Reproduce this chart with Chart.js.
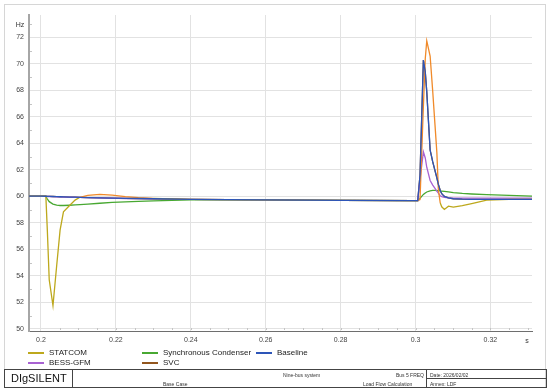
<!DOCTYPE html>
<html>
<head>
<meta charset="utf-8">
<title>Bus 5 frequency</title>
<script src="https://cdn.jsdelivr.net/npm/chart.js@4/dist/chart.umd.min.js"></script>
<style>
  body { margin: 0; background: #fff; font-family: "Liberation Sans", Arial, sans-serif; }
  #wrap { position: relative; width: 550px; height: 392px; overflow: hidden; background: #fff; }
  #chart { position: absolute; left: 0; top: 0; }
  .frame { position: absolute; left: 4px; top: 4px; width: 542px; height: 384px; border: 1px solid #d6d6d6; box-sizing: border-box; }
  #legend { position: absolute; left: 0; top: 346px; width: 550px; height: 22px; font-size: 8px; color: #222; }
  .lg-item { position: absolute; width: 120px; height: 10px; line-height: 10px; white-space: nowrap; }
  .lg-line { position: absolute; left: 0; top: 4px; width: 16px; height: 0; border-top: 2px solid; }
  .lg-text { position: absolute; left: 21px; top: 0; }
  .footer { position: absolute; left: 4px; top: 369px; width: 543px; height: 19px; border: 1px solid #444; box-sizing: border-box; font-size: 5px; color: #333; }
  .cell { position: absolute; top: 0; height: 17px; box-sizing: border-box; }
  .ft { position: absolute; white-space: nowrap; }
</style>
</head>
<body>
<div id="wrap">
  <canvas id="chart" width="550" height="392"></canvas>
  <div class="frame"></div>
  <div id="legend"></div>
  <div class="footer">
    <div class="cell" style="left:0;width:68px;border-right:1px solid #444;">
      <span class="ft" style="left:6px;top:2px;font-size:11px;color:#111;">DIgSILENT</span>
    </div>
    <div class="cell" style="left:68px;width:354px;border-right:1px solid #444;">
      <span class="ft" style="left:210px;top:2px;">Nine-bus system</span>
      <span class="ft" style="left:90px;top:11px;">Base Case</span>
      <span class="ft" style="left:290px;top:11px;">Load Flow Calculation</span>
      <span class="ft" style="right:2px;top:2px;">Bus 5 FREQ</span>
    </div>
    <div class="cell" style="left:422px;width:119px;">
      <div style="position:absolute;left:0;top:8px;width:119px;border-top:1px solid #444;"></div>
      <span class="ft" style="left:3px;top:2px;">Date: 2026/02/02</span>
      <span class="ft" style="left:3px;top:11px;">Annex: LDF</span>
    </div>
  </div>
</div>
<script>
// Bus 5 frequency after the two disturbances
const times = [0.1968, 0.2, 0.2013, 0.2017, 0.2022, 0.2032, 0.2042, 0.2051, 0.2060, 0.2077,
  0.2091, 0.2104, 0.2125, 0.2157, 0.219, 0.2225, 0.226, 0.23, 0.24, 0.25,
  0.26, 0.28, 0.2999, 0.3006, 0.3012, 0.3021, 0.3026, 0.3030, 0.3039, 0.3046,
  0.3052, 0.3057, 0.3061, 0.3066, 0.3070, 0.3077, 0.3088, 0.3101, 0.3125, 0.315,
  0.319, 0.325, 0.3311];

const statcom = [60.02, 60.02, 60.01, 57.4, 53.7, 51.75, 54.8, 57.45, 58.83, 59.33,
  59.72, 59.93, 60.08, 60.15, 60.1, 59.98, 59.9, 59.84, 59.78, 59.75,
  59.73, 59.70, 59.68, 59.68, 59.75, 66.8, 70.4, 71.75, 70.6, 67.9,
  65.4, 63.3, 60.5, 59.5, 59.21, 59.01, 59.26, 59.19, 59.3, 59.46,
  59.71, 59.77, 59.78];

const syncCondenser = [60.01, 60.01, 60.0, 59.8, 59.6, 59.42, 59.34, 59.31, 59.31, 59.33,
  59.35, 59.37, 59.41, 59.48, 59.54, 59.59, 59.62, 59.66, 59.74, 59.74,
  59.73, 59.70, 59.68, 59.68, 59.85, 60.15, 60.25, 60.33, 60.42, 60.45,
  60.45, 60.44, 60.43, 60.41, 60.40, 60.38, 60.34, 60.28, 60.22, 60.18,
  60.13, 60.07, 60.02];

const baseline = [60.02, 60.02, 60.01, 60.0, 60.0, 59.99, 59.98, 59.97, 59.96, 59.95,
  59.94, 59.93, 59.91, 59.89, 59.87, 59.85, 59.84, 59.82, 59.78, 59.75,
  59.73, 59.70, 59.68, 59.68, 61.6, 70.3, 69.4, 67.9, 63.5, 62.6,
  61.95, 61.4, 60.9, 60.45, 60.2, 60.0, 59.88, 59.82, 59.79, 59.78,
  59.78, 59.78, 59.78];

const bessGfm = [60.01, 60.01, 60.0, 59.99, 59.99, 59.98, 59.97, 59.96, 59.95, 59.94,
  59.93, 59.92, 59.9, 59.88, 59.86, 59.84, 59.83, 59.81, 59.77, 59.75,
  59.73, 59.70, 59.68, 59.68, 61.3, 63.36, 62.9, 62.2, 61.2, 60.85,
  60.6, 60.4, 60.25, 60.05, 59.98, 59.92, 59.88, 59.87, 59.87, 59.87,
  59.87, 59.86, 59.86];

const svc = [60.02, 60.02, 60.01, 60.0, 60.0, 59.99, 59.98, 59.97, 59.96, 59.95,
  59.94, 59.93, 59.91, 59.89, 59.87, 59.85, 59.84, 59.82, 59.78, 59.75,
  59.73, 59.70, 59.68, 59.68, 61.6, 70.3, 69.4, 67.9, 63.5, 62.6,
  61.95, 61.4, 60.9, 60.45, 60.2, 60.0, 59.88, 59.82, 59.79, 59.78,
  59.78, 59.78, 59.78];

const xTicks = [0.2, 0.22, 0.24, 0.26, 0.28, 0.3, 0.32];
const yTicks = [50, 52, 54, 56, 58, 60, 62, 64, 66, 68, 70, 72];

// time windows where the STATCOM trace is drawn in orange in the original
const statcomOrangeSpans = [[0.2104, 0.23], [0.3006, 0.3066]];

function toPoints(values) {
    return times.map((t, i) => ({ x: t, y: values[i] }));
}

function inOrange(t) {
    return statcomOrangeSpans.some(s => t >= s[0] && t < s[1]);
}

// small inside ticks, unit labels
const axisExtras = {
    id: 'axisExtras',
    afterDatasetsDraw(chart) {
        const { ctx, chartArea, scales } = chart;
        const x = scales.x, y = scales.y;
        ctx.save();
        ctx.strokeStyle = '#c4c4c4';
        ctx.lineWidth = 1;
        ctx.beginPath();
        for (let t = 0.205; t < x.max; t += 0.005) {
            const px = Math.round(x.getPixelForValue(t)) + 0.5;
            ctx.moveTo(px, chartArea.bottom - 1);
            ctx.lineTo(px, chartArea.bottom - 3);
        }
        for (let v = 51; v < y.max; v += 2) {
            const py = Math.round(y.getPixelForValue(v)) + 0.5;
            ctx.moveTo(chartArea.left + 1, py);
            ctx.lineTo(chartArea.left + 3, py);
        }
        ctx.stroke();
        ctx.fillStyle = '#333';
        ctx.font = '7px "Liberation Sans", Arial, sans-serif';
        ctx.textAlign = 'center';
        ctx.textBaseline = 'middle';
        ctx.fillText('Hz', 20, 25);
        ctx.fillText('s', 527, 341);
        ctx.restore();
    }
};

const datasets = [
    { label: 'Baseline', data: toPoints(baseline), borderColor: '#2d55b8', order: 0 },
    {
        label: 'STATCOM', data: toPoints(statcom), borderColor: '#bda81c', order: 1,
        segment: { borderColor: c => inOrange(c.p0.parsed.x) ? '#f08a2a' : undefined }
    },
    { label: 'BESS-GFM', data: toPoints(bessGfm), borderColor: '#a862d2', order: 2 },
    { label: 'Synchronous Condenser', data: toPoints(syncCondenser), borderColor: '#48a832', order: 3 },
    { label: 'SVC', data: toPoints(svc), borderColor: '#92561e', order: 4 }
];

const chart = new Chart(document.getElementById('chart'), {
    type: 'line',
    data: { datasets: datasets },
    options: {
        responsive: false,
        animation: false,
        layout: { padding: { left: 0, top: 15, right: 18, bottom: 44 } },
        elements: {
            point: { radius: 0 },
            line: { borderWidth: 1.3, tension: 0, fill: false }
        },
        plugins: {
            legend: { display: false },
            tooltip: { enabled: false }
        },
        scales: {
            x: {
                type: 'linear',
                min: 0.1968,
                max: 0.3311,
                afterBuildTicks: a => { a.ticks = xTicks.map(v => ({ value: v })); },
                afterFit: s => { s.height = 17; },
                ticks: {
                    autoSkip: false,
                    maxRotation: 0,
                    padding: 5,
                    color: '#444',
                    font: { family: '"Liberation Sans", Arial, sans-serif', size: 7 },
                    callback: v => String(Number(v.toFixed(2)))
                },
                grid: { color: '#e2e2e2', drawTicks: false },
                border: { color: '#6e6e6e', width: 1 }
            },
            y: {
                min: 49.83,
                max: 73.7,
                afterBuildTicks: a => { a.ticks = yTicks.map(v => ({ value: v })); },
                afterFit: s => { s.width = 29; },
                ticks: {
                    padding: 5,
                    color: '#444',
                    font: { family: '"Liberation Sans", Arial, sans-serif', size: 7 }
                },
                grid: { color: '#e2e2e2', drawTicks: false },
                border: { color: '#a6a6a6', width: 2 }
            }
        }
    },
    plugins: [axisExtras]
});

// legend laid out in three columns like the DIgSILENT plot
const legendOrder = ['STATCOM', 'Synchronous Condenser', 'Baseline', 'BESS-GFM', 'SVC'];
const legendCols = [28, 142, 256];
const legendRows = [2, 12];
const legendEl = document.getElementById('legend');
legendOrder.forEach((name, i) => {
    const ds = chart.data.datasets.find(d => d.label === name);
    const item = document.createElement('div');
    item.className = 'lg-item';
    item.style.left = legendCols[i % 3] + 'px';
    item.style.top = legendRows[Math.floor(i / 3)] + 'px';
    item.innerHTML = '<span class="lg-line" style="border-top-color:' + ds.borderColor + '"></span>' +
        '<span class="lg-text">' + name + '</span>';
    legendEl.appendChild(item);
});
</script>
</body>
</html>
